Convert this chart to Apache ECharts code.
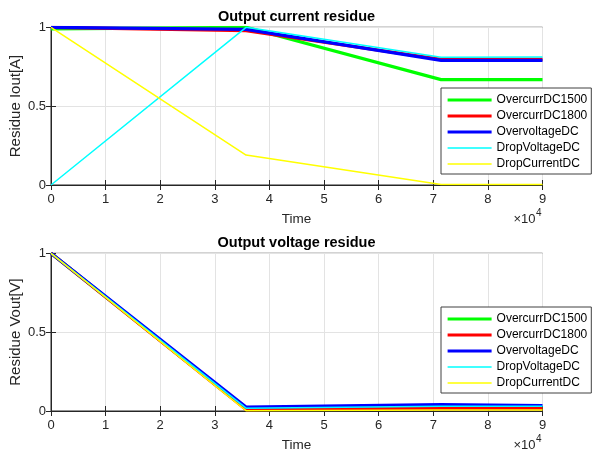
<!DOCTYPE html>
<html><head><meta charset="utf-8">
<script src="https://cdn.jsdelivr.net/npm/echarts@6/dist/echarts.min.js"></script>
<style>html,body{margin:0;padding:0;background:#fff}#c{width:592px;height:452px}</style>
</head><body><div id="c"></div>
<script>
const time = [0, 35714, 71428, 90000];
const seriesNames = ['OvercurrDC1500', 'OvercurrDC1800', 'OvervoltageDC', 'DropVoltageDC', 'DropCurrentDC'];
const seriesColors = ['#00ff00', '#ff0000', '#0000ff', '#00ffff', '#ffff00'];
const seriesWidths = [3.2, 3.2, 3.2, 1.5, 1.5];
// Output current residue
const iOvercurr1500 = [0.99, 1.0, 0.668, 0.668];
const iOvercurr1800 = [1.0, 0.978, 0.797, 0.797];
const iOvervoltage = [1.0, 0.987, 0.79, 0.79];
const iDropVoltage = [0.0, 1.0, 0.81, 0.812];
const iDropCurrent = [1.0, 0.19, 0.003, 0.003];
// Output voltage residue
const vOvercurr1500 = [1.0, 0.012, 0.02, 0.018];
const vOvercurr1800 = [1.0, 0.009, 0.017, 0.015];
const vOvervoltage = [1.0, 0.025, 0.04, 0.035];
const vDropVoltage = [1.0, 0.018, 0.03, 0.03];
const vDropCurrent = [1.0, 0.002, 0.007, 0.006];

const currentData = [iOvercurr1500, iOvercurr1800, iOvervoltage, iDropVoltage, iDropCurrent];
const voltageData = [vOvercurr1500, vOvercurr1800, vOvervoltage, vDropVoltage, vDropCurrent];

const FONT = 'Liberation Sans, Arial, Helvetica, sans-serif';
const AX = '#262626';
const GRIDC = '#e3e3e3';

const grids = [
  {left: 51, top: 27.3, width: 491.5, height: 157.7},
  {left: 51, top: 253.3, width: 491.5, height: 157.7}
];

function xAxes(gi) {
  return [
    {type: 'value', gridIndex: gi, position: 'bottom', min: 0, max: 90000, interval: 10000,
     axisLine: {lineStyle: {color: AX, width: 1}}, axisTick: {inside: true, length: 5, lineStyle: {color: AX}},
     axisLabel: {color: AX, fontSize: 13, fontFamily: FONT, margin: 8, formatter: v => String(v / 10000)},
     splitLine: {show: true, lineStyle: {color: GRIDC, width: 1}}},
    {type: 'value', gridIndex: gi, position: 'top', min: 0, max: 90000, interval: 10000,
     axisLine: {show: true, lineStyle: {color: AX, width: 1}}, axisTick: {inside: true, length: 5, lineStyle: {color: AX}},
     axisLabel: {show: false}, splitLine: {show: false}}
  ];
}
function yAxes(gi) {
  return [
    {type: 'value', gridIndex: gi, position: 'left', min: 0, max: 1, interval: 0.5,
     axisLine: {show: true, lineStyle: {color: AX, width: 1}}, axisTick: {show: true, inside: true, length: 5, lineStyle: {color: AX}},
     axisLabel: {color: AX, fontSize: 13, fontFamily: FONT, margin: 5, formatter: v => String(v)},
     splitLine: {show: true, lineStyle: {color: GRIDC, width: 1}}},
    {type: 'value', gridIndex: gi, position: 'right', min: 0, max: 1, interval: 0.5,
     axisLine: {show: true, lineStyle: {color: AX, width: 1}}, axisTick: {show: true, inside: true, length: 5, lineStyle: {color: AX}},
     axisLabel: {show: false}, splitLine: {show: false}}
  ];
}

const series = [];
[currentData, voltageData].forEach((set, gi) => {
  set.forEach((vals, i) => {
    series.push({
      type: 'line', name: seriesNames[i], xAxisIndex: gi * 2, yAxisIndex: gi * 2,
      data: time.map((t, k) => [t, vals[k]]),
      symbol: 'none', showSymbol: false, animation: false,
      lineStyle: {color: seriesColors[i], width: seriesWidths[i]},
      itemStyle: {color: seriesColors[i]},
      z: 2 + i
    });
  });
});

function legendAt(top) {
  return {
    orient: 'vertical', left: 441, top: top,
    data: seriesNames.map((n, i) => ({name: n, lineStyle: {color: seriesColors[i], width: seriesWidths[i]}})),
    itemWidth: 44, itemHeight: 10, itemGap: 4,
    padding: [6, 4, 4, 5],
    itemStyle: {opacity: 0, borderWidth: 0},
    backgroundColor: '#fff', borderColor: '#404040', borderWidth: 1, borderRadius: 0,
    textStyle: {fontSize: 12, color: '#000', fontFamily: FONT},
    selectedMode: false, z: 20
  };
}

function texts(offY, title, yname) {
  return [
    {type: 'text', x: 296.5, y: offY + 17, style: {text: title, fontSize: 14.5, fontWeight: 'bold', fontFamily: FONT, fill: '#000', align: 'center', verticalAlign: 'middle'}},
    {type: 'text', x: 296.5, y: offY + 219, style: {text: 'Time', fontSize: 13.5, fontFamily: FONT, fill: AX, align: 'center', verticalAlign: 'middle'}},
    {type: 'text', x: 535.5, y: offY + 219.5, style: {text: '×10', fontSize: 13, fontFamily: FONT, fill: AX, align: 'right', verticalAlign: 'middle'}, z: 10},
    {type: 'text', x: 536, y: offY + 213.5, style: {text: '4', fontSize: 10, fontFamily: FONT, fill: AX, align: 'left', verticalAlign: 'middle'}, z: 10},
    {type: 'text', x: 16, y: offY + 106, rotation: Math.PI / 2, style: {text: yname, fontSize: 15, fontFamily: FONT, fill: AX, align: 'center', verticalAlign: 'middle'}}
  ];
}

const chart = echarts.init(document.getElementById('c'), null, {renderer: 'canvas'});
chart.setOption({
  backgroundColor: '#fff',
  animation: false,
  textStyle: {fontFamily: FONT},
  grid: grids.map(g => Object.assign({show: true, borderColor: AX, borderWidth: 1, backgroundColor: 'transparent', containLabel: false}, g)),
  xAxis: xAxes(0).concat(xAxes(1)),
  yAxis: yAxes(0).concat(yAxes(1)),
  legend: [legendAt(88), legendAt(307)],
  series: series,
  graphic: texts(0, 'Output current residue', 'Residue Iout[A]').concat(texts(226, 'Output voltage residue', 'Residue Vout[V]'))
});
</script>
</body></html>
